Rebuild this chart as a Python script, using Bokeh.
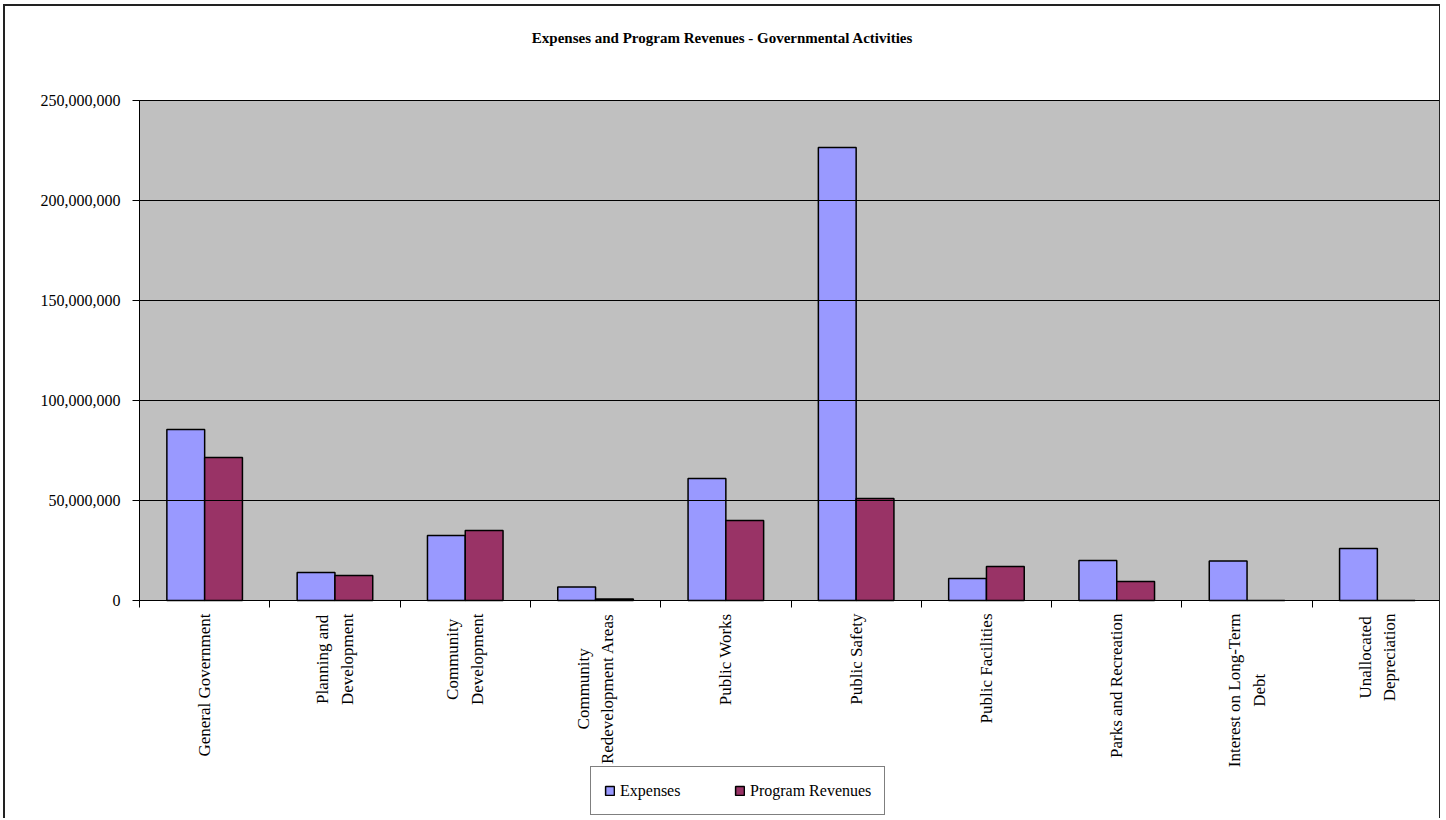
from math import pi
import numpy as np
from bokeh.plotting import figure
from bokeh.models import (ColumnDataSource, FixedTicker, NumeralTickFormatter,
                          Legend, LegendItem, Range1d, Label, BoxAnnotation, Grid)
from bokeh.transform import dodge
from bokeh.embed import file_html
from bokeh.resources import INLINE

# ---------------- data ----------------
categories = [
    "General Government",
    "Planning and\nDevelopment",
    "Community\nDevelopment",
    "Community\nRedevelopment Areas",
    "Public Works",
    "Public Safety",
    "Public Facilities",
    "Parks and Recreation",
    "Interest on Long-Term\nDebt",
    "Unallocated\nDepreciation",
]
expenses = [85_500_000, 14_000_000, 32_500_000, 6_700_000, 61_000_000,
            226_500_000, 11_000_000, 20_000_000, 19_700_000, 26_000_000]
program_revenues = [71_500_000, 12_500_000, 35_000_000, 700_000, 40_000_000,
                    51_000_000, 17_000_000, 9_500_000, 0, 0]
y_ticks = [0, 50_000_000, 100_000_000, 150_000_000, 200_000_000, 250_000_000]
series_names = ["Expenses", "Program Revenues"]
title_text = "Expenses and Program Revenues - Governmental Activities"

FONT = "Liberation Serif"
n = len(categories)
y_max = y_ticks[-1]
centers = [i + 0.5 for i in range(n)]

# ---------------- layout (pixels) ----------------
W, H = 1437, 814              # canvas size
PL, PT, PB = 134, 94, 220     # plot-area margins inside the canvas
PW, PH = W - PL, H - PT - PB  # plot-area size

x_range = Range1d(-PL / PW * n, n)
y_range = Range1d(-PB / PH * y_max, y_max + PT / PH * y_max)

p = figure(width=W, height=H, output_backend="svg", toolbar_location=None,
           x_range=x_range, y_range=y_range,
           min_border=0, min_border_left=0, min_border_right=0,
           min_border_top=0, min_border_bottom=0)
p.styles = {"margin-left": "3px", "margin-top": "4px",
            "border-left": "2px solid #222", "border-top": "2px solid #222",
            "border-right": "1px solid #222"}

p.background_fill_color = "white"
p.border_fill_color = "white"
p.outline_line_color = None

# grey plot area with black top/right border
p.add_layout(BoxAnnotation(left=0, right=n, bottom=0, top=y_max,
                           fill_color="#C0C0C0", fill_alpha=1,
                           line_color="black", line_width=1, line_alpha=1,
                           level="underlay"))

p.xgrid.visible = False
if "cross_bounds" in Grid.properties():
    p.ygrid.ticker = FixedTicker(ticks=y_ticks)
    p.ygrid.cross_bounds = (0, n)
    p.ygrid.grid_line_color = "black"
    p.ygrid.grid_line_width = 1
    p.ygrid.level = "glyph"
else:
    p.ygrid.visible = False
    p.segment(x0=0, x1=n, y0=y_ticks[1:], y1=y_ticks[1:],
              line_color="black", line_width=1)

yax = p.yaxis[0]
yax.fixed_location = 0
yax.bounds = (0, y_max)
yax.ticker = FixedTicker(ticks=y_ticks)
yax.formatter = NumeralTickFormatter(format="0,0")
yax.major_tick_in = 0
yax.major_tick_out = 7
yax.minor_tick_line_color = None
yax.axis_line_color = "black"
yax.major_tick_line_color = "black"
yax.major_label_text_font = FONT
yax.major_label_text_font_size = "16px"
yax.major_label_text_color = "black"
yax.major_label_standoff = 12

xax = p.xaxis[0]
xax.fixed_location = 0
xax.bounds = (0, n)
xax.ticker = FixedTicker(ticks=list(range(0, n)))
xax.major_label_overrides = {i: "" for i in range(0, n + 1)}
xax.major_tick_in = 0
xax.major_tick_out = 7
xax.minor_tick_line_color = None
xax.axis_line_color = "black"
xax.major_tick_line_color = "black"

source = ColumnDataSource(dict(x=np.array(centers), exp=expenses, rev=program_revenues))
r1 = p.vbar(x=dodge("x", -0.145), top="exp", width=0.29, source=source,
            fill_color="#9999FF", line_color="black", line_width=1.5)
r2 = p.vbar(x=dodge("x", 0.145), top="rev", width=0.29, source=source,
            fill_color="#993366", line_color="black", line_width=1.5)

# category labels, rotated, lines centred, top end just under the axis
for c, cat in zip(centers, categories):
    p.add_layout(Label(x=c, y=0, y_offset=-13, text=cat, angle=pi / 2,
                       anchor="center_right", text_align="center",
                       text_font=FONT, text_font_size="17px", text_color="black",
                       text_line_height=1.3))

# title
p.add_layout(Label(x=717, y=783, x_units="screen", y_units="screen", text=title_text,
                   text_align="center", text_baseline="middle", text_font=FONT,
                   text_font_size="15px", text_font_style="bold", text_color="black"))

legend = Legend(items=[LegendItem(label=series_names[0], renderers=[r1]),
                       LegendItem(label=series_names[1], renderers=[r2])],
                orientation="horizontal", location=(585, 5), margin=0,
                padding=13, spacing=14, label_standoff=5, label_width=100,
                label_height=21, glyph_width=11, glyph_height=11,
                border_line_color="black", border_line_width=1,
                background_fill_color="white", background_fill_alpha=1,
                label_text_font=FONT, label_text_font_size="16px",
                label_text_color="black")
p.add_layout(legend)

open("out.html", "w").write(file_html(p, INLINE))
